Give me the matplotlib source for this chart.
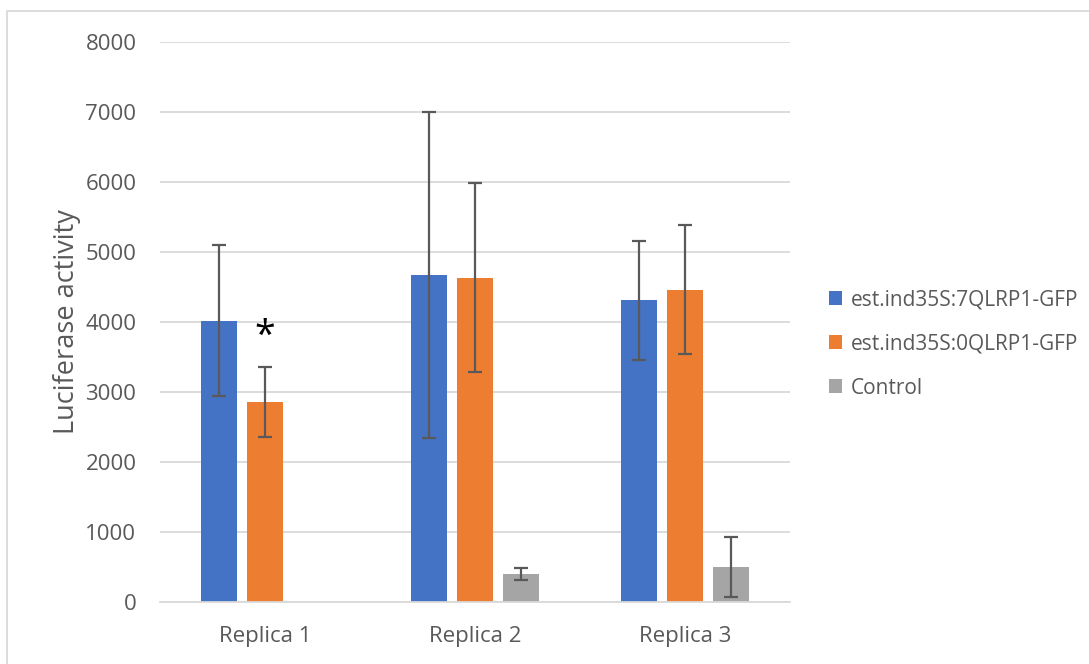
import numpy as np
import matplotlib.pyplot as plt
from matplotlib.patches import Rectangle

plt.rcParams['font.family'] = ['Open Sans', 'DejaVu Sans']

categories = ['Replica 1', 'Replica 2', 'Replica 3']
series_names = ['est.ind35S:7QLRP1-GFP', 'est.ind35S:0QLRP1-GFP', 'Control']
qlrp7 = [4020, 4670, 4310]
qlrp7_err = [1080, 2330, 850]
qlrp0 = [2860, 4630, 4460]
qlrp0_err = [500, 1350, 920]
control = [np.nan, 400, 500]
control_err = [np.nan, 90, 430]
colors = ['#4472C4', '#ED7D31', '#A5A5A5']

fig = plt.figure(figsize=(10.89, 6.64), dpi=100)
ax = fig.add_axes([160/1089, 1 - 602/664, 630/1089, 560/664])

x = np.arange(len(categories))
w = 0.171
off = 0.219
data = [(qlrp7, qlrp7_err), (qlrp0, qlrp0_err), (control, control_err)]
for i, (vals, errs) in enumerate(data):
    pos = x + (i - 1) * off
    ax.bar(pos, vals, w, color=colors[i], label=series_names[i], zorder=2)
    ax.errorbar(pos, vals, yerr=errs, fmt='none', ecolor='#595959',
                elinewidth=1.6, capsize=5, capthick=1.6, zorder=3)

# significance mark above the 0QLRP1 bar in Replica 1
ax.text(x[0], qlrp0[0] + qlrp0_err[0] + 430, '*', ha='center', va='center',
        fontsize=27, color='black')

ax.set_xlim(-0.5, 2.5)
ax.set_ylim(0, 8000)
ax.set_yticks(range(0, 8001, 1000))
ax.set_xticks(x)
ax.set_xticklabels(categories)
ax.yaxis.grid(True, color='#D9D9D9', linewidth=1.3, zorder=0)
ax.set_axisbelow(True)
for s in ['top', 'right', 'left']:
    ax.spines[s].set_visible(False)
ax.spines['bottom'].set_color('#D9D9D9')
ax.spines['bottom'].set_linewidth(1.3)
ax.tick_params(axis='both', length=0, labelsize=16, labelcolor='#595959')
ax.tick_params(axis='x', pad=17)
ax.tick_params(axis='y', pad=17)
ax.set_ylabel('Luciferase activity', fontsize=19.5, color='#595959')
ax.yaxis.set_label_coords(-0.126, 0.5)

fig.legend(loc='upper left', bbox_to_anchor=(810/1089, 1 - 271/664),
           frameon=False, fontsize=15, handlelength=0.65, handleheight=0.65,
           handletextpad=0.4, labelspacing=1.1, labelcolor='#595959')

# outer chart frame
fig.patches.append(Rectangle((7/1089, -0.05), 1.1, 1 - 11/664 + 0.05,
                             transform=fig.transFigure, fill=False,
                             edgecolor='#D9D9D9', linewidth=1.3))

fig.savefig('out.png', dpi=100)
